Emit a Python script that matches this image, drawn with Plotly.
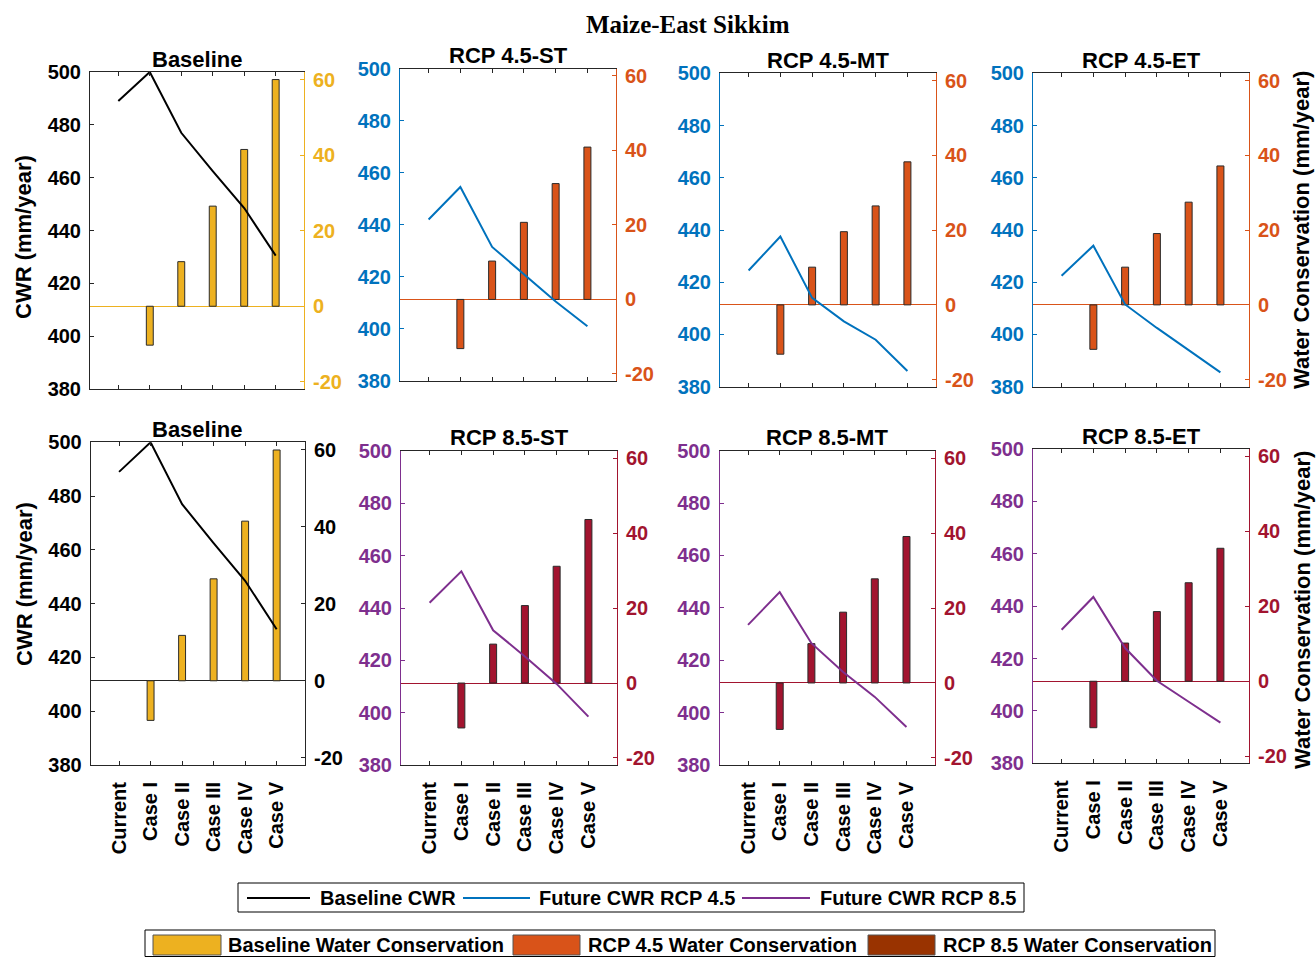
import plotly.graph_objects as go

W, H = 1316, 957

# ---- data -------------------------------------------------------------
categories = ["Current", "Case I", "Case II", "Case III", "Case IV", "Case V"]

# crop water requirement (mm/year)
cwr_baseline = [489, 500, 477, 462.5, 448.5, 430.5]
cwr_rcp45_st = [442, 454.5, 431.5, 421, 410.5, 401]
cwr_rcp45_mt = [424.5, 437.5, 414, 405, 398, 386]
cwr_rcp45_et = [422.5, 434, 411.5, 402.5, 394, 385.5]
cwr_rcp85_st = [442, 454, 431.5, 421.5, 411, 398.5]
cwr_rcp85_mt = [433.5, 446, 426.5, 415.5, 406, 394.5]
cwr_rcp85_et = [431, 443.5, 424, 411.5, 403.5, 395.5]

# water conservation (mm/year)
wc_baseline = [0, -10.3, 11.8, 26.5, 41.5, 60]
wc_rcp45_st = [0, -13.2, 10.3, 20.7, 31.1, 40.9]
wc_rcp45_mt = [0, -13.2, 10.1, 19.6, 26.5, 38.3]
wc_rcp45_et = [0, -11.9, 10.1, 19.1, 27.5, 37.2]
wc_rcp85_st = [0, -12.0, 10.4, 20.7, 31.2, 43.7]
wc_rcp85_mt = [0, -12.4, 10.5, 18.9, 27.8, 39.1]
wc_rcp85_et = [0, -12.4, 10.2, 18.6, 26.3, 35.5]

cwr_ticks = [380, 400, 420, 440, 460, 480, 500]
wc_ticks = [-20, 0, 20, 40, 60]
wc_tick_text = ["-20", "0", "20", "40", "60"]

# ---- styling ----------------------------------------------------------
DARK = "#262626"
BLACK = "#000000"
GOLD = "#EDB120"
BLUE = "#0072BD"
ORANGE = "#D95319"
PURPLE = "#7E2F8E"
CRIMSON = "#A2142F"
BROWN = "#993300"

SANS = "Liberation Sans, Arial, sans-serif"
SERIF = "Liberation Serif, Times New Roman, serif"


def fx(px):
    return px / W


def fy(py):
    return 1 - py / H


panels = [
    dict(title="Baseline", cwr=cwr_baseline, wc=wc_baseline, line=BLACK, bar=GOLD,
         lcol=DARK, rcol=GOLD, xpx=(90, 304), ypx=(72, 389), labels=False),
    dict(title="RCP 4.5-ST", cwr=cwr_rcp45_st, wc=wc_rcp45_st, line=BLUE, bar=ORANGE,
         lcol=BLUE, rcol=ORANGE, xpx=(400, 616), ypx=(68.5, 381), labels=False),
    dict(title="RCP 4.5-MT", cwr=cwr_rcp45_mt, wc=wc_rcp45_mt, line=BLUE, bar=ORANGE,
         lcol=BLUE, rcol=ORANGE, xpx=(720, 936), ypx=(73.3, 386.7), labels=False),
    dict(title="RCP 4.5-ET", cwr=cwr_rcp45_et, wc=wc_rcp45_et, line=BLUE, bar=ORANGE,
         lcol=BLUE, rcol=ORANGE, xpx=(1033, 1249), ypx=(73.3, 386.7), labels=False),
    dict(title="Baseline", cwr=cwr_baseline, wc=wc_baseline, line=BLACK, bar=GOLD,
         lcol=DARK, rcol=DARK, xpx=(90.7, 305), ypx=(442.3, 765), labels=True),
    dict(title="RCP 8.5-ST", cwr=cwr_rcp85_st, wc=wc_rcp85_st, line=PURPLE, bar=CRIMSON,
         lcol=PURPLE, rcol=CRIMSON, xpx=(401, 617), ypx=(451, 765), labels=True),
    dict(title="RCP 8.5-MT", cwr=cwr_rcp85_mt, wc=wc_rcp85_mt, line=PURPLE, bar=CRIMSON,
         lcol=PURPLE, rcol=CRIMSON, xpx=(719.5, 935), ypx=(450.7, 765), labels=True),
    dict(title="RCP 8.5-ET", cwr=cwr_rcp85_et, wc=wc_rcp85_et, line=PURPLE, bar=CRIMSON,
         lcol=PURPLE, rcol=CRIMSON, xpx=(1033, 1249), ypx=(449, 763.3), labels=True),
]

fig = go.Figure()
layout = {}
annotations = []
shapes = []

tick_font = dict(family=SANS, size=20, weight="bold")

for i, p in enumerate(panels, start=1):
    xa = f"x{i}"
    ybar = f"y{2 * i - 1}"
    yline = f"y{2 * i}"

    # no outline on empty (zero) bars
    edge_widths = [0 if v == 0 else 1 for v in p["wc"]]

    # bars on the base (right-side) axis, line on the overlaying left axis so it sits on top
    fig.add_trace(go.Bar(
        x=categories, y=p["wc"], xaxis=xa, yaxis=ybar, width=0.22,
        marker=dict(color=p["bar"], line=dict(color="#2a2a2a", width=edge_widths)),
        showlegend=False,
    ))
    fig.add_trace(go.Scatter(
        x=categories, y=p["cwr"], xaxis=xa, yaxis=yline, mode="lines",
        line=dict(color=p["line"], width=2), showlegend=False,
    ))

    xdom = [fx(p["xpx"][0]), fx(p["xpx"][1])]
    ydom = [fy(p["ypx"][1]), fy(p["ypx"][0])]

    layout[f"xaxis{i}"] = dict(
        domain=xdom, anchor=ybar, type="category", categoryorder="array",
        categoryarray=categories, range=[-0.9, 5.9], automargin=False,
        showline=True, linecolor=DARK, linewidth=1, mirror="ticks",
        ticks="inside", ticklen=4, tickcolor=DARK,
        showticklabels=p["labels"], tickangle=-90,
        tickfont=dict(tick_font, color=BLACK), ticklabelstandoff=8,
        showgrid=False, zeroline=False,
    )
    layout[f"yaxis{2 * i - 1}"] = dict(
        domain=ydom, anchor=xa, side="right", range=[-21.9, 62], automargin=False,
        tickmode="array", tickvals=wc_ticks, ticktext=wc_tick_text,
        showline=True, linecolor=p["rcol"], linewidth=1,
        ticks="inside", ticklen=4, tickcolor=p["rcol"],
        tickfont=dict(tick_font, color=p["rcol"] if p["rcol"] != DARK else BLACK),
        ticklabelstandoff=4,
        showgrid=False, zeroline=True, zerolinecolor=p["rcol"], zerolinewidth=1,
    )
    layout[f"yaxis{2 * i}"] = dict(
        overlaying=ybar, anchor=xa, side="left", range=[380, 500], automargin=False,
        tickmode="array", tickvals=cwr_ticks,
        showline=True, linecolor=p["lcol"], linewidth=1,
        ticks="inside", ticklen=4, tickcolor=p["lcol"],
        tickfont=dict(tick_font, color=p["lcol"] if p["lcol"] != DARK else BLACK),
        ticklabelstandoff=4,
        showgrid=False, zeroline=False,
    )

    annotations.append(dict(
        text=p["title"], x=fx((p["xpx"][0] + p["xpx"][1]) / 2), y=fy(p["ypx"][0] - 13),
        xref="paper", yref="paper", xanchor="center", yanchor="middle", showarrow=False,
        font=dict(family=SANS, size=22, weight="bold", color=BLACK),
    ))

# axis titles
for cy in (237, 584):
    annotations.append(dict(
        text="CWR (mm/year)", x=fx(24), y=fy(cy), xref="paper", yref="paper",
        xanchor="center", yanchor="middle", textangle=-90, showarrow=False,
        font=dict(family=SANS, size=22, weight="bold", color=BLACK),
    ))
for cy in (230, 610):
    annotations.append(dict(
        text="Water Conservation (mm/year)", x=fx(1302), y=fy(cy), xref="paper", yref="paper",
        xanchor="center", yanchor="middle", textangle=-90, showarrow=False,
        font=dict(family=SANS, size=22, weight="bold", color=BLACK),
    ))

# figure title
annotations.append(dict(
    text="Maize-East Sikkim", x=fx(688), y=fy(24), xref="paper", yref="paper",
    xanchor="center", yanchor="middle", showarrow=False,
    font=dict(family=SERIF, size=25, weight="bold", color=BLACK),
))

# ---- legends ----------------------------------------------------------
legend_font = dict(family=SANS, size=20, weight="bold", color=BLACK)


def rect(x0, y0, x1, y1, fill, line_color, width=1):
    return dict(type="rect", xref="paper", yref="paper",
                x0=fx(x0), x1=fx(x1), y0=fy(y1), y1=fy(y0),
                fillcolor=fill, line=dict(color=line_color, width=width), layer="above")


shapes.append(rect(238, 883, 1024, 912, "white", BLACK))
line_items = [
    ("Baseline CWR", BLACK, 247, 310, 318),
    ("Future CWR RCP 4.5", BLUE, 463, 530, 537),
    ("Future CWR RCP 8.5", PURPLE, 742, 810, 818),
]
for label, color, lx0, lx1, tx in line_items:
    shapes.append(dict(type="line", xref="paper", yref="paper",
                       x0=fx(lx0), x1=fx(lx1), y0=fy(898), y1=fy(898),
                       line=dict(color=color, width=2), layer="above"))
    annotations.append(dict(text=label, x=fx(tx), y=fy(898), xref="paper", yref="paper",
                            xanchor="left", yanchor="middle", showarrow=False, font=legend_font))

shapes.append(rect(145, 930, 1215, 956.5, "white", BLACK))
bar_items = [
    ("Baseline Water Conservation", GOLD, 153, 221, 226),
    ("RCP 4.5 Water Conservation", ORANGE, 513, 580, 586),
    ("RCP 8.5 Water Conservation", BROWN, 868, 935, 941),
]
for label, color, sx0, sx1, tx in bar_items:
    shapes.append(rect(sx0, 935, sx1, 955, color, "#555555"))
    annotations.append(dict(text=label, x=fx(tx), y=fy(945), xref="paper", yref="paper",
                            xanchor="left", yanchor="middle", showarrow=False, font=legend_font))

fig.update_layout(
    width=W, height=H,
    margin=dict(l=0, r=0, t=0, b=0, autoexpand=False),
    paper_bgcolor="white", plot_bgcolor="white",
    showlegend=False, barmode="overlay",
    annotations=annotations, shapes=shapes,
    **layout,
)

fig.write_html("out.html")
